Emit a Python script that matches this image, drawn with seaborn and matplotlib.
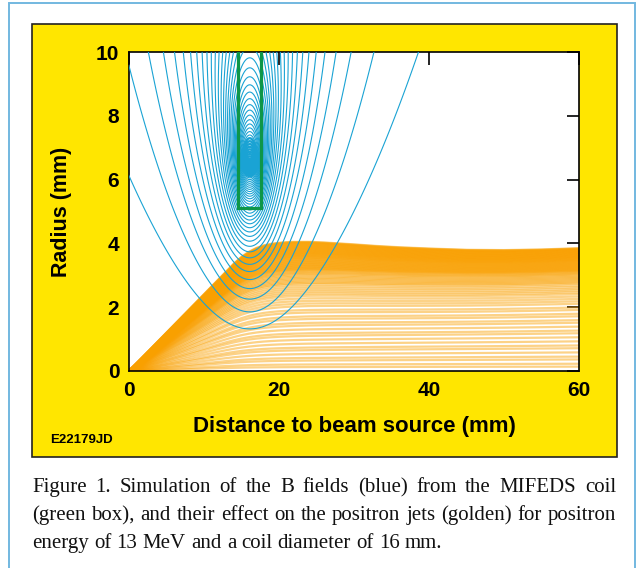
import numpy as np
import pandas as pd
import matplotlib
matplotlib.use('Agg')
import matplotlib.pyplot as plt
from matplotlib.patches import Rectangle
import seaborn as sns

# coil (green box) and its turns (mm)
coil_box_x = [14.55, 17.6]
coil_box_r = [5.1, 10.5]
coil_turns_x = [15.0, 15.2, 15.4, 15.6, 15.8, 16.0, 16.2, 16.4, 16.6, 16.8, 17.0, 17.2]
coil_a = 6.55
# radius of the innermost field line at the coil centre, and number of lines drawn
first_line_rmin = 1.32
n_field_lines = 200
# top of the solid blue core inside the coil, where the lines merge
core_top_r = 7.35

# positron rays: outer ray and a paraxial ray (normalised to the same launch slope)
ray_x = [0, 12, 13, 14, 15, 16, 17, 18, 19, 20, 21, 22, 24, 26, 28, 30, 33, 36, 40, 45, 50, 55, 60]
ray_top = [0, 2.89, 3.13, 3.37, 3.58, 3.74, 3.86, 3.94, 3.99, 4.02, 4.04, 4.05, 4.05, 4.03,
           4.00, 3.97, 3.92, 3.88, 3.84, 3.80, 3.79, 3.81, 3.85]
ray_low = [0, 2.89, 3.11, 3.31, 3.48, 3.62, 3.73, 3.82, 3.89, 3.95, 3.99, 4.03, 4.09, 4.13,
           4.17, 4.20, 4.25, 4.29, 4.34, 4.40, 4.46, 4.52, 4.58]
# launch angle of each ray relative to the outermost one
ray_frac_halo = [0.03, 0.05, 0.08, 0.10, 0.13, 0.16, 0.18, 0.21, 0.24, 0.27, 0.29, 0.32,
                 0.35, 0.37, 0.40, 0.42, 0.45, 0.47, 0.50, 0.52, 0.54, 0.56]
ray_frac_mid = [0.58, 0.595, 0.61, 0.625, 0.64, 0.655, 0.67, 0.68, 0.69, 0.70, 0.71, 0.72,
                0.73, 0.74, 0.75, 0.758, 0.766, 0.774]
ray_frac_core = [0.781, 0.786, 0.791, 0.796, 0.801, 0.806, 0.811, 0.816, 0.821, 0.826, 0.831,
                 0.836, 0.841, 0.846, 0.851, 0.856, 0.861, 0.866, 0.871, 0.876, 0.88, 0.885,
                 0.889, 0.893, 0.898, 0.902, 0.906, 0.91, 0.914, 0.918, 0.922, 0.926, 0.93,
                 0.934, 0.938, 0.942, 0.946, 0.95, 0.954, 0.958, 0.962, 0.966, 0.97, 0.974,
                 0.978, 0.982, 0.986, 0.99, 0.994, 0.997, 1.0]

caption = ["Figure 1. Simulation of the B fields (blue) from the MIFEDS coil",
           "(green box), and their effect on the positron jets (golden) for positron",
           "energy of 13 MeV and a coil diameter of 16 mm."]

yellow = '#ffe600'
blue = '#1aa3d4'
green = '#0e9648'
orange = '#f9a000'
border = '#72b8e0'


def ellipke(m):
    a = np.ones_like(m)
    b = np.sqrt(1 - m)
    c = np.sqrt(m)
    s = 0.5 * c ** 2
    p = 1.0
    for _ in range(14):
        a, b, c = (a + b) / 2, np.sqrt(a * b), (a - b) / 2
        s += p * c ** 2
        p *= 2
    K = np.pi / (2 * a)
    return K, K * (1 - s)


def loop_flux(z, r, a):
    # r * A_phi of a circular current loop (arbitrary units)
    m = 4 * a * r / ((a + r) ** 2 + z ** 2)
    m = np.clip(m, 1e-14, 1 - 1e-13)
    K, E = ellipke(m)
    return np.sqrt(a * r) / np.sqrt(m) * ((1 - m / 2) * K - E)


def coil_flux(x, r):
    return sum(loop_flux(x - xt, r, coil_a) for xt in coil_turns_x)


sns.set_theme(style='white')
plt.rcParams['font.family'] = ['Liberation Sans', 'DejaVu Sans']
plt.rcParams.update({'text.color': 'black', 'axes.labelcolor': 'black',
                     'xtick.color': 'black', 'ytick.color': 'black'})

fig = plt.figure(figsize=(6.39, 5.68), dpi=100)
W, H = 639, 568
fig.add_artist(Rectangle((9 / W, -0.01), 626 / W, 1 - 3 / H + 0.01, transform=fig.transFigure,
                         fc='white', ec=border, lw=1.4, zorder=-3))
fig.add_artist(Rectangle((32 / W, 1 - 457 / H), 585 / W, 433 / H, transform=fig.transFigure,
                         fc=yellow, ec='#222222', lw=1.2, zorder=-2))

ax = fig.add_axes([129 / W, 1 - 371 / H, 450 / W, 319 / H])
ax.set_facecolor('white')

# positron jets
rows = []
for i, f in enumerate(ray_frac_halo + ray_frac_mid + ray_frac_core):
    for x, t, l in zip(ray_x, ray_top, ray_low):
        rows.append((i, x, f * (f * t + (1 - f) * l)))
rays = pd.DataFrame(rows, columns=['ray', 'x', 'r'])
sns.lineplot(data=rays, x='x', y='r', units='ray', estimator=None, sort=False,
             color=orange, lw=1.6, alpha=0.47, ax=ax, legend=False, zorder=2)

# field lines; the ones hugging the winding are packed into a solid core
xg = np.linspace(-1, 61, 2481)
rg = np.linspace(0, 10.5, 1051)
X, R = np.meshgrid(xg, rg)
psi = coil_flux(X, R)
xc = np.array(np.mean(coil_turns_x))
step = coil_flux(xc, np.array(first_line_rmin))
psi_core = coil_flux(xc, np.array(core_top_r))
levels = step * np.arange(1, n_field_lines + 1)
widths = np.where(levels >= psi_core, 1.7, 0.8)
ax.contour(xg, rg, psi, levels=levels, colors=blue, linewidths=widths, zorder=3)

# coil
ax.plot([coil_box_x[0], coil_box_x[0], coil_box_x[1], coil_box_x[1]],
        [coil_box_r[1], coil_box_r[0], coil_box_r[0], coil_box_r[1]],
        color=green, lw=2.3, zorder=4, solid_joinstyle='miter')

ax.set_xlim(0, 60)
ax.set_ylim(0, 10)
ax.set_xticks([0, 20, 40, 60])
ax.set_yticks([0, 2, 4, 6, 8, 10])
ax.tick_params(direction='in', length=9, width=1.2, color='black', top=True, right=True,
               labelsize=15)
ax.tick_params(axis='x', pad=7)
ax.tick_params(axis='y', pad=7)
for lab in ax.get_xticklabels() + ax.get_yticklabels():
    lab.set_fontweight('bold')
for sp in ax.spines.values():
    sp.set_color('black')
    sp.set_linewidth(1.2)

ax.set_xlabel('Distance to beam source (mm)', fontsize=16, fontweight='bold')
ax.set_ylabel('Radius (mm)', fontsize=15.5, fontweight='bold')
ax.xaxis.set_label_coords(0.5, -0.14)
ax.yaxis.set_label_coords(-0.127, 0.5)

fig.text(50 / W, 1 - 440 / H, 'E22179JD', fontsize=9.5, fontweight='bold', va='center', ha='left')

# caption, justified like the original
renderer = fig.canvas.get_renderer()
cap_font = dict(fontsize=15, family='Liberation Serif', color='#111111')
left, right = 32, 616
space = fig.text(0, 0, ' ', **cap_font)
space_w = space.get_window_extent(renderer).width
space.remove()
for i, line in enumerate(caption):
    words = line.split()
    y = 1 - (492 + 28 * i) / H
    texts = [fig.text(0, y, w, va='baseline', ha='left', **cap_font) for w in words]
    tw = [t.get_window_extent(renderer).width for t in texts]
    if i < len(caption) - 1:
        gap = (right - left - sum(tw)) / (len(words) - 1)
    else:
        gap = space_w
    x = left
    for t, w in zip(texts, tw):
        t.set_x(x / W)
        x += w + gap

fig.savefig('out.png', dpi=100)
